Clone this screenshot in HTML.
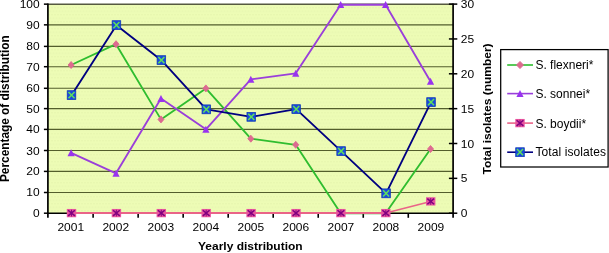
<!DOCTYPE html><html><head><meta charset="utf-8"><style>html,body{margin:0;padding:0;background:#fff;width:609px;height:253px;overflow:hidden}svg{display:block}text{font-family:"Liberation Sans",Arial,sans-serif;fill:#000}</style></head><body>
<svg width="609" height="253" viewBox="0 0 609 253">
<defs><pattern id="dots" width="3" height="7" patternUnits="userSpaceOnUse" x="0.5" y="0.3"><rect width="3" height="7" fill="#edfcb5"/><rect x="0" y="0" width="1" height="1" fill="#dfeda8"/><rect x="1.5" y="3.5" width="1" height="1" fill="#dfeda8"/></pattern></defs>
<rect x="47.9" y="4.1" width="405.20" height="209.10" fill="url(#dots)"/>
<line x1="47.9" y1="24.85" x2="453.1" y2="24.85" stroke="#535e2c" stroke-width="1.1"/>
<line x1="47.9" y1="46.40" x2="453.1" y2="46.40" stroke="#535e2c" stroke-width="1.1"/>
<line x1="47.9" y1="66.70" x2="453.1" y2="66.70" stroke="#535e2c" stroke-width="1.1"/>
<line x1="47.9" y1="88.30" x2="453.1" y2="88.30" stroke="#535e2c" stroke-width="1.1"/>
<line x1="47.9" y1="108.60" x2="453.1" y2="108.60" stroke="#535e2c" stroke-width="1.1"/>
<line x1="47.9" y1="129.40" x2="453.1" y2="129.40" stroke="#535e2c" stroke-width="1.1"/>
<line x1="47.9" y1="150.50" x2="453.1" y2="150.50" stroke="#535e2c" stroke-width="1.1"/>
<line x1="47.9" y1="171.40" x2="453.1" y2="171.40" stroke="#535e2c" stroke-width="1.1"/>
<line x1="47.9" y1="192.50" x2="453.1" y2="192.50" stroke="#535e2c" stroke-width="1.1"/>
<line x1="47.9" y1="4.15" x2="453.1" y2="4.15" stroke="#565a40" stroke-width="1.5"/>
<line x1="47.9" y1="3.5999999999999996" x2="47.9" y2="217.7" stroke="#000" stroke-width="1.7"/>
<line x1="453.1" y1="3.5999999999999996" x2="453.1" y2="217.7" stroke="#000" stroke-width="1.7"/>
<line x1="47.9" y1="213.2" x2="453.1" y2="213.2" stroke="#000" stroke-width="1.6"/>
<line x1="43.9" y1="213.20" x2="47.9" y2="213.20" stroke="#000" stroke-width="1.5"/>
<text transform="translate(39.70 217.20) scale(1 0.9)" font-size="12" text-anchor="end">0</text>
<line x1="43.9" y1="192.50" x2="47.9" y2="192.50" stroke="#000" stroke-width="1.5"/>
<text transform="translate(39.70 196.00) scale(1 0.9)" font-size="12" text-anchor="end">10</text>
<line x1="43.9" y1="171.40" x2="47.9" y2="171.40" stroke="#000" stroke-width="1.5"/>
<text transform="translate(39.70 175.40) scale(1 0.9)" font-size="12" text-anchor="end">20</text>
<line x1="43.9" y1="150.50" x2="47.9" y2="150.50" stroke="#000" stroke-width="1.5"/>
<text transform="translate(39.70 154.50) scale(1 0.9)" font-size="12" text-anchor="end">30</text>
<line x1="43.9" y1="129.40" x2="47.9" y2="129.40" stroke="#000" stroke-width="1.5"/>
<text transform="translate(39.70 133.40) scale(1 0.9)" font-size="12" text-anchor="end">40</text>
<line x1="43.9" y1="108.60" x2="47.9" y2="108.60" stroke="#000" stroke-width="1.5"/>
<text transform="translate(39.70 112.60) scale(1 0.9)" font-size="12" text-anchor="end">50</text>
<line x1="43.9" y1="88.30" x2="47.9" y2="88.30" stroke="#000" stroke-width="1.5"/>
<text transform="translate(39.70 92.30) scale(1 0.9)" font-size="12" text-anchor="end">60</text>
<line x1="43.9" y1="66.70" x2="47.9" y2="66.70" stroke="#000" stroke-width="1.5"/>
<text transform="translate(39.70 70.70) scale(1 0.9)" font-size="12" text-anchor="end">70</text>
<line x1="43.9" y1="46.40" x2="47.9" y2="46.40" stroke="#000" stroke-width="1.5"/>
<text transform="translate(39.70 50.40) scale(1 0.9)" font-size="12" text-anchor="end">80</text>
<line x1="43.9" y1="24.85" x2="47.9" y2="24.85" stroke="#000" stroke-width="1.5"/>
<text transform="translate(39.70 28.85) scale(1 0.9)" font-size="12" text-anchor="end">90</text>
<line x1="43.9" y1="4.15" x2="47.9" y2="4.15" stroke="#000" stroke-width="1.5"/>
<text transform="translate(39.70 8.15) scale(1 0.9)" font-size="12" text-anchor="end">100</text>
<line x1="448.90000000000003" y1="213.20" x2="457.3" y2="213.20" stroke="#000" stroke-width="1.5"/>
<text transform="translate(460.80 217.20) scale(1 0.9)" font-size="12">0</text>
<line x1="448.90000000000003" y1="178.35" x2="457.3" y2="178.35" stroke="#000" stroke-width="1.5"/>
<text transform="translate(460.80 182.35) scale(1 0.9)" font-size="12">5</text>
<line x1="448.90000000000003" y1="143.50" x2="457.3" y2="143.50" stroke="#000" stroke-width="1.5"/>
<text transform="translate(460.80 147.50) scale(1 0.9)" font-size="12">10</text>
<line x1="448.90000000000003" y1="108.65" x2="457.3" y2="108.65" stroke="#000" stroke-width="1.5"/>
<text transform="translate(460.80 112.65) scale(1 0.9)" font-size="12">15</text>
<line x1="448.90000000000003" y1="73.80" x2="457.3" y2="73.80" stroke="#000" stroke-width="1.5"/>
<text transform="translate(460.80 77.80) scale(1 0.9)" font-size="12">20</text>
<line x1="448.90000000000003" y1="38.95" x2="457.3" y2="38.95" stroke="#000" stroke-width="1.5"/>
<text transform="translate(460.80 42.95) scale(1 0.9)" font-size="12">25</text>
<line x1="448.90000000000003" y1="4.10" x2="457.3" y2="4.10" stroke="#000" stroke-width="1.5"/>
<text transform="translate(460.80 8.10) scale(1 0.9)" font-size="12">30</text>
<line x1="93.12" y1="213.2" x2="93.12" y2="217.79999999999998" stroke="#000" stroke-width="1.6"/>
<line x1="138.14" y1="213.2" x2="138.14" y2="217.79999999999998" stroke="#000" stroke-width="1.6"/>
<line x1="183.17" y1="213.2" x2="183.17" y2="217.79999999999998" stroke="#000" stroke-width="1.6"/>
<line x1="228.19" y1="213.2" x2="228.19" y2="217.79999999999998" stroke="#000" stroke-width="1.6"/>
<line x1="273.21" y1="213.2" x2="273.21" y2="217.79999999999998" stroke="#000" stroke-width="1.6"/>
<line x1="318.23" y1="213.2" x2="318.23" y2="217.79999999999998" stroke="#000" stroke-width="1.6"/>
<line x1="363.26" y1="213.2" x2="363.26" y2="217.79999999999998" stroke="#000" stroke-width="1.6"/>
<line x1="408.28" y1="213.2" x2="408.28" y2="217.79999999999998" stroke="#000" stroke-width="1.6"/>
<text transform="translate(70.76 230.70) scale(1 0.9)" font-size="12" text-anchor="middle">2001</text>
<text transform="translate(115.78 230.70) scale(1 0.9)" font-size="12" text-anchor="middle">2002</text>
<text transform="translate(160.81 230.70) scale(1 0.9)" font-size="12" text-anchor="middle">2003</text>
<text transform="translate(205.83 230.70) scale(1 0.9)" font-size="12" text-anchor="middle">2004</text>
<text transform="translate(250.85 230.70) scale(1 0.9)" font-size="12" text-anchor="middle">2005</text>
<text transform="translate(295.87 230.70) scale(1 0.9)" font-size="12" text-anchor="middle">2006</text>
<text transform="translate(340.89 230.70) scale(1 0.9)" font-size="12" text-anchor="middle">2007</text>
<text transform="translate(385.92 230.70) scale(1 0.9)" font-size="12" text-anchor="middle">2008</text>
<text transform="translate(430.94 230.70) scale(1 0.9)" font-size="12" text-anchor="middle">2009</text>
<text transform="translate(250.30 249.80) scale(1 0.9)" font-size="12" font-weight="bold" text-anchor="middle">Yearly distribution</text>
<text transform="translate(8.50 108.65) rotate(-90)" font-size="11.85" font-weight="bold" text-anchor="middle">Percentage of distribution</text>
<text transform="translate(491.10 108.90) rotate(-90) scale(1 0.9)" font-size="12" font-weight="bold" text-anchor="middle">Total isolates (number)</text>
<polyline points="71.10,65.00 116.03,44.20 160.96,119.40 205.89,88.40 250.82,138.70 295.75,144.80 340.68,213.20 385.61,213.20 430.54,149.00" fill="none" stroke="#2fbd2f" stroke-width="1.85" stroke-linejoin="round"/>
<path d="M71.10 61.50L74.10 65.00L71.10 68.50L68.10 65.00Z" fill="#dd6a90" stroke="#dd6a90" stroke-width="0.9" stroke-linejoin="round"/>
<path d="M116.03 40.70L119.03 44.20L116.03 47.70L113.03 44.20Z" fill="#dd6a90" stroke="#dd6a90" stroke-width="0.9" stroke-linejoin="round"/>
<path d="M160.96 115.90L163.96 119.40L160.96 122.90L157.96 119.40Z" fill="#dd6a90" stroke="#dd6a90" stroke-width="0.9" stroke-linejoin="round"/>
<path d="M205.89 84.90L208.89 88.40L205.89 91.90L202.89 88.40Z" fill="#dd6a90" stroke="#dd6a90" stroke-width="0.9" stroke-linejoin="round"/>
<path d="M250.82 135.20L253.82 138.70L250.82 142.20L247.82 138.70Z" fill="#dd6a90" stroke="#dd6a90" stroke-width="0.9" stroke-linejoin="round"/>
<path d="M295.75 141.30L298.75 144.80L295.75 148.30L292.75 144.80Z" fill="#dd6a90" stroke="#dd6a90" stroke-width="0.9" stroke-linejoin="round"/>
<path d="M340.68 209.70L343.68 213.20L340.68 216.70L337.68 213.20Z" fill="#dd6a90" stroke="#dd6a90" stroke-width="0.9" stroke-linejoin="round"/>
<path d="M385.61 209.70L388.61 213.20L385.61 216.70L382.61 213.20Z" fill="#dd6a90" stroke="#dd6a90" stroke-width="0.9" stroke-linejoin="round"/>
<path d="M430.54 145.50L433.54 149.00L430.54 152.50L427.54 149.00Z" fill="#dd6a90" stroke="#dd6a90" stroke-width="0.9" stroke-linejoin="round"/>
<polyline points="71.10,152.80 116.03,173.35 160.96,98.55 205.89,129.35 250.82,79.35 295.75,73.35 340.68,4.70 385.61,4.70 430.54,81.45" fill="none" stroke="#9a3fda" stroke-width="1.85" stroke-linejoin="round"/>
<path d="M71.10 149.20L74.70 156.22L67.50 156.22Z" fill="#9933ee"/>
<path d="M116.03 169.75L119.63 176.77L112.43 176.77Z" fill="#9933ee"/>
<path d="M160.96 94.95L164.56 101.97L157.36 101.97Z" fill="#9933ee"/>
<path d="M205.89 125.75L209.49 132.77L202.29 132.77Z" fill="#9933ee"/>
<path d="M250.82 75.75L254.42 82.77L247.22 82.77Z" fill="#9933ee"/>
<path d="M295.75 69.75L299.35 76.77L292.15 76.77Z" fill="#9933ee"/>
<path d="M340.68 1.10L344.28 8.12L337.08 8.12Z" fill="#9933ee"/>
<path d="M385.61 1.10L389.21 8.12L382.01 8.12Z" fill="#9933ee"/>
<path d="M430.54 77.85L434.14 84.87L426.94 84.87Z" fill="#9933ee"/>
<line x1="71.50" y1="212.95" x2="385.80" y2="212.95" stroke="#ea6488" stroke-width="2.1"/>
<polyline points="71.50,213.10 116.40,213.10 161.30,213.10 206.20,213.10 251.10,213.10 296.00,213.10 340.90,213.10 385.80,213.10 430.70,201.40" fill="none" stroke="#ea6488" stroke-width="1.6" stroke-linejoin="round"/>
<rect x="66.80" y="208.95" width="9.40" height="8.30" fill="#e8559e"/><path d="M68.10 210.25L74.90 215.95M74.90 210.25L68.10 215.95" stroke="#800080" stroke-width="1.6"/><path d="M71.50 209.75L71.50 216.45" stroke="#800080" stroke-width="0.9"/>
<rect x="111.70" y="208.95" width="9.40" height="8.30" fill="#e8559e"/><path d="M113.00 210.25L119.80 215.95M119.80 210.25L113.00 215.95" stroke="#800080" stroke-width="1.6"/><path d="M116.40 209.75L116.40 216.45" stroke="#800080" stroke-width="0.9"/>
<rect x="156.60" y="208.95" width="9.40" height="8.30" fill="#e8559e"/><path d="M157.90 210.25L164.70 215.95M164.70 210.25L157.90 215.95" stroke="#800080" stroke-width="1.6"/><path d="M161.30 209.75L161.30 216.45" stroke="#800080" stroke-width="0.9"/>
<rect x="201.50" y="208.95" width="9.40" height="8.30" fill="#e8559e"/><path d="M202.80 210.25L209.60 215.95M209.60 210.25L202.80 215.95" stroke="#800080" stroke-width="1.6"/><path d="M206.20 209.75L206.20 216.45" stroke="#800080" stroke-width="0.9"/>
<rect x="246.40" y="208.95" width="9.40" height="8.30" fill="#e8559e"/><path d="M247.70 210.25L254.50 215.95M254.50 210.25L247.70 215.95" stroke="#800080" stroke-width="1.6"/><path d="M251.10 209.75L251.10 216.45" stroke="#800080" stroke-width="0.9"/>
<rect x="291.30" y="208.95" width="9.40" height="8.30" fill="#e8559e"/><path d="M292.60 210.25L299.40 215.95M299.40 210.25L292.60 215.95" stroke="#800080" stroke-width="1.6"/><path d="M296.00 209.75L296.00 216.45" stroke="#800080" stroke-width="0.9"/>
<rect x="336.20" y="208.95" width="9.40" height="8.30" fill="#e8559e"/><path d="M337.50 210.25L344.30 215.95M344.30 210.25L337.50 215.95" stroke="#800080" stroke-width="1.6"/><path d="M340.90 209.75L340.90 216.45" stroke="#800080" stroke-width="0.9"/>
<rect x="381.10" y="208.95" width="9.40" height="8.30" fill="#e8559e"/><path d="M382.40 210.25L389.20 215.95M389.20 210.25L382.40 215.95" stroke="#800080" stroke-width="1.6"/><path d="M385.80 209.75L385.80 216.45" stroke="#800080" stroke-width="0.9"/>
<rect x="426.00" y="197.25" width="9.40" height="8.30" fill="#e8559e"/><path d="M427.30 198.55L434.10 204.25M434.10 198.55L427.30 204.25" stroke="#800080" stroke-width="1.6"/><path d="M430.70 198.05L430.70 204.75" stroke="#800080" stroke-width="0.9"/>
<polyline points="71.50,95.15 116.44,25.15 161.38,60.15 206.32,109.35 251.26,116.80 296.20,109.15 341.14,151.15 386.08,193.35 431.02,102.15" fill="none" stroke="#000080" stroke-width="1.85" stroke-linejoin="round"/>
<rect x="67.20" y="90.70" width="8.60" height="8.90" fill="#1a4ada" stroke="#0c36b8" stroke-width="0.7"/><path d="M68.50 92.00L74.50 98.30M74.50 92.00L68.50 98.30" stroke="#5fe05a" stroke-width="1.5"/>
<rect x="112.14" y="20.70" width="8.60" height="8.90" fill="#1a4ada" stroke="#0c36b8" stroke-width="0.7"/><path d="M113.44 22.00L119.44 28.30M119.44 22.00L113.44 28.30" stroke="#5fe05a" stroke-width="1.5"/>
<rect x="157.08" y="55.70" width="8.60" height="8.90" fill="#1a4ada" stroke="#0c36b8" stroke-width="0.7"/><path d="M158.38 57.00L164.38 63.30M164.38 57.00L158.38 63.30" stroke="#5fe05a" stroke-width="1.5"/>
<rect x="202.02" y="104.90" width="8.60" height="8.90" fill="#1a4ada" stroke="#0c36b8" stroke-width="0.7"/><path d="M203.32 106.20L209.32 112.50M209.32 106.20L203.32 112.50" stroke="#5fe05a" stroke-width="1.5"/>
<rect x="246.96" y="112.35" width="8.60" height="8.90" fill="#1a4ada" stroke="#0c36b8" stroke-width="0.7"/><path d="M248.26 113.65L254.26 119.95M254.26 113.65L248.26 119.95" stroke="#5fe05a" stroke-width="1.5"/>
<rect x="291.90" y="104.70" width="8.60" height="8.90" fill="#1a4ada" stroke="#0c36b8" stroke-width="0.7"/><path d="M293.20 106.00L299.20 112.30M299.20 106.00L293.20 112.30" stroke="#5fe05a" stroke-width="1.5"/>
<rect x="336.84" y="146.70" width="8.60" height="8.90" fill="#1a4ada" stroke="#0c36b8" stroke-width="0.7"/><path d="M338.14 148.00L344.14 154.30M344.14 148.00L338.14 154.30" stroke="#5fe05a" stroke-width="1.5"/>
<rect x="381.78" y="188.90" width="8.60" height="8.90" fill="#1a4ada" stroke="#0c36b8" stroke-width="0.7"/><path d="M383.08 190.20L389.08 196.50M389.08 190.20L383.08 196.50" stroke="#5fe05a" stroke-width="1.5"/>
<rect x="426.72" y="97.70" width="8.60" height="8.90" fill="#1a4ada" stroke="#0c36b8" stroke-width="0.7"/><path d="M428.02 99.00L434.02 105.30M434.02 99.00L428.02 105.30" stroke="#5fe05a" stroke-width="1.5"/>
<rect x="500.7" y="49.6" width="107.4" height="117.4" fill="#fff" stroke="#000" stroke-width="1.25"/>
<line x1="507.2" y1="65.0" x2="533" y2="65.0" stroke="#2fbd2f" stroke-width="1.6"/>
<path d="M520.00 61.40L523.50 65.00L520.00 68.60L516.50 65.00Z" fill="#dd6a90" stroke="#dd6a90" stroke-width="0.9" stroke-linejoin="round"/>
<text transform="translate(535.40 69.00)" font-size="12">S. flexneri*</text>
<line x1="507.2" y1="93.6" x2="533" y2="93.6" stroke="#9a3fda" stroke-width="1.6"/>
<path d="M520.00 90.00L523.60 97.02L516.40 97.02Z" fill="#9933ee"/>
<text transform="translate(535.40 98.00)" font-size="12">S. sonnei*</text>
<line x1="507.2" y1="123.1" x2="533" y2="123.1" stroke="#ea6488" stroke-width="1.6"/>
<rect x="515.30" y="118.95" width="9.40" height="8.30" fill="#e8559e"/><path d="M516.60 120.25L523.40 125.95M523.40 120.25L516.60 125.95" stroke="#800080" stroke-width="1.6"/><path d="M520.00 119.75L520.00 126.45" stroke="#800080" stroke-width="0.9"/>
<text transform="translate(535.40 128.00)" font-size="12">S. boydii*</text>
<line x1="507.2" y1="152.2" x2="533" y2="152.2" stroke="#000080" stroke-width="1.6"/>
<rect x="515.70" y="147.75" width="8.60" height="8.90" fill="#1a4ada" stroke="#0c36b8" stroke-width="0.7"/><path d="M517.00 149.05L523.00 155.35M523.00 149.05L517.00 155.35" stroke="#5fe05a" stroke-width="1.5"/>
<text transform="translate(535.40 156.00)" font-size="12" letter-spacing="0.1">Total isolates</text>
</svg></body></html>
